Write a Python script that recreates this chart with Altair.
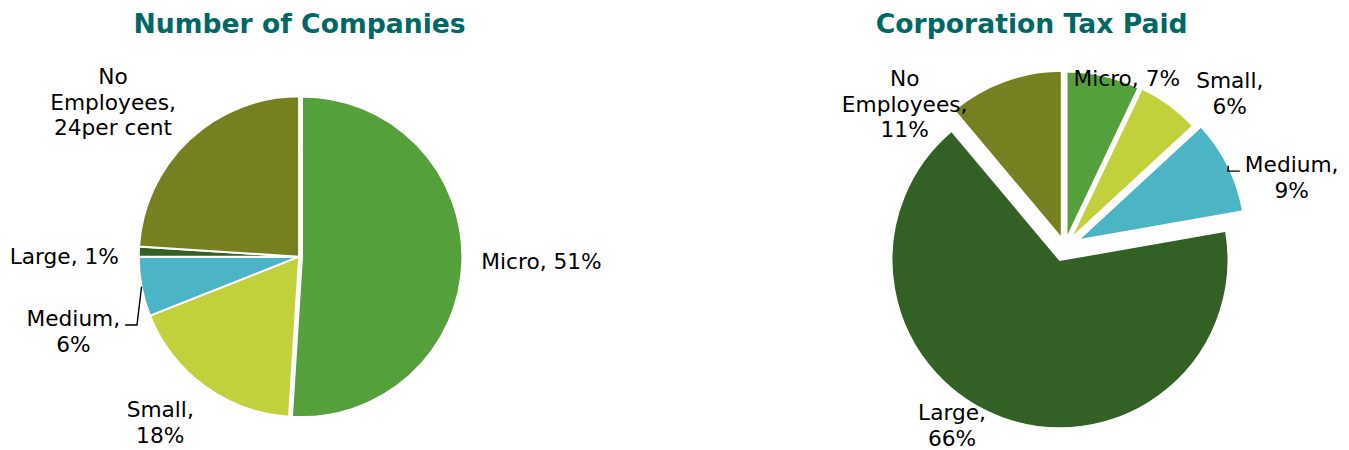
import math
import altair as alt
import pandas as pd

# ---------------- data ----------------
categories = ["Micro", "Small", "Medium", "Large", "No Employees"]
companies_pct = [51, 18, 6, 1, 24]
tax_pct = [7, 6, 9, 66, 11]
companies_labels = ["Micro, 51%", "Small,\n18%", "Medium,\n6%", "Large, 1%",
                    "No\nEmployees,\n24per cent"]
tax_labels = ["Micro, 7%", "Small,\n6%", "Medium,\n9%", "Large,\n66%",
              "No\nEmployees,\n11%"]
titles = ["Number of Companies", "Corporation Tax Paid"]

# ---------------- style / layout ----------------
COLORS = ["#54A03A", "#C1D03B", "#4BB5C5", "#336024", "#778021"]
TITLE_COLOR = "#006864"
FONT = "DejaVu Sans"
TITLE_SIZE = 27
LABEL_SIZE = 22
LINE_H = 26
GAP = 19                 # distance of label box from pie edge
PLOT_TOP = 47            # page y of the top of the plot areas
PLOT_H = 395
LABEL_TOP = 62           # page y band within which labels are kept
LABEL_BOTTOM = 452
SPACING = 129

GEO = {
    "left": dict(x0=8, width=584, cx=303, cy=256, r=162.5, stroke=2, title_dx=3.5),
    "right": dict(x0=721, width=620, cx=1061, cy=246, r=171, stroke=2.5, title_dx=-3.5),
}
EXPLODE = {
    "left": {"Micro": 3, "Small": 0, "Medium": 0, "Large": 0, "No Employees": 0},
    "right": {"Micro": 7, "Small": 8, "Medium": 14, "Large": 14, "No Employees": 8},
}
# manual label nudges (like hand-moved data labels)
NUDGE = {
    "left": {"Micro": (0, -1), "Small": (0, -1.6), "Medium": (-3, 27.6), "Large": (-1, 7),
             "No Employees": (-0.6, -1)},
    "right": {"Micro": (-16.4, 1), "Small": (15.8, 3), "Medium": (-0.3, 46.9),
              "Large": (-9.8, 2), "No Employees": (-30.8, 1)},
}
LEADERS = {"left": ["Medium"], "right": ["Medium"]}

CHAR_W = {" ": 0.318, ",": 0.318, "%": 0.950, "M": 0.863, "S": 0.635, "L": 0.557,
          "N": 0.748, "E": 0.632, "a": 0.613, "c": 0.550, "d": 0.635, "e": 0.615,
          "g": 0.635, "i": 0.278, "l": 0.278, "m": 0.974, "n": 0.634, "o": 0.612,
          "p": 0.635, "r": 0.411, "s": 0.521, "t": 0.392, "u": 0.634, "y": 0.592}


def text_width(s):
    return max(sum(CHAR_W.get(ch, 0.636) for ch in line) for line in s.split("\n")) * LABEL_SIZE


def layout_labels(values, labels, key):
    g = GEO[key]
    r = g["r"]
    top, bottom = LABEL_TOP - g["cy"], LABEL_BOTTOM - g["cy"]
    total = sum(values)
    cum = 0.0
    rows, leader_rows = [], []
    for i, (v, lab) in enumerate(zip(values, labels)):
        cat = categories[i]
        mid = 2 * math.pi * (cum + v / 2) / total
        cum += v
        ux, uy = math.sin(mid), -math.cos(mid)
        ex = EXPLODE[key][cat]
        R = ex + r + GAP
        w = text_width(lab)
        n = lab.count("\n") + 1
        h = n * LINE_H
        sx = max(-1.0, min(1.0, 3 * ux))
        sy = max(-1.0, min(1.0, 3 * uy))
        cx = R * ux + sx * w / 2
        cy = R * uy + sy * h / 2
        cy = max(top + h / 2, min(bottom - h / 2, cy))
        nx, ny = NUDGE[key].get(cat, (0, 0))
        cx += nx
        cy += ny
        # first text line sits at the anchor, so lift the block to centre it
        rows.append({"category": cat, "label": lab, "lx": cx,
                     "ly": cy - (n - 1) * LINE_H / 2})
        if cat in LEADERS[key]:
            side = 1 if ux > 0 else -1
            edge_x = cx - side * w / 2
            ly = cy - (n - 1) * LINE_H / 2 + 6
            pts = [((ex + r) * ux, (ex + r) * uy),
                   (edge_x - side * 17, ly),
                   (edge_x - side * 5, ly)]
            for j, (px, py) in enumerate(pts):
                leader_rows.append({"id": cat, "pt": j, "x": px, "y": py})
    return pd.DataFrame(rows), pd.DataFrame(leader_rows)


def build_panel(values, labels, title, key):
    g = GEO[key]
    xs = alt.Scale(domain=[g["x0"] - g["cx"], g["x0"] + g["width"] - g["cx"]],
                   nice=False, zero=False)
    ys = alt.Scale(domain=[PLOT_TOP - g["cy"], PLOT_TOP + PLOT_H - g["cy"]],
                   nice=False, zero=False, reverse=True)
    total = sum(values)
    slices = pd.DataFrame({
        "category": categories,
        "value": values,
        "order": list(range(len(values))),
        "ex": [EXPLODE[key][c] for c in categories],
    })
    arcs = (
        alt.Chart(slices)
        .transform_window(c1="sum(value)", sort=[alt.SortField("order", order="ascending")])
        .transform_calculate(c0="datum.c1 - datum.value")
        .transform_calculate(mid=f"PI * (datum.c0 + datum.c1) / {total}")
        .transform_calculate(dx="datum.ex * sin(datum.mid)")
        .transform_calculate(dy="-datum.ex * cos(datum.mid)")
        .mark_arc(radius=g["r"], stroke="white", strokeWidth=g["stroke"])
        .encode(
            x=alt.X("dx:Q", scale=xs, axis=None),
            y=alt.Y("dy:Q", scale=ys, axis=None),
            theta=alt.Theta("c0:Q", stack=None,
                            scale=alt.Scale(domain=[0, total], range=[0, 2 * math.pi])),
            theta2=alt.Theta2("c1:Q"),
            color=alt.Color("category:N", scale=alt.Scale(domain=categories, range=COLORS),
                            legend=None),
            order=alt.Order("order:Q"),
        )
    )
    lab_df, lead_df = layout_labels(values, labels, key)
    texts = (
        alt.Chart(lab_df)
        .mark_text(font=FONT, fontSize=LABEL_SIZE, lineHeight=LINE_H, lineBreak="\n",
                   align="center", baseline="middle", color="black")
        .encode(x=alt.X("lx:Q", scale=xs, axis=None),
                y=alt.Y("ly:Q", scale=ys, axis=None),
                text="label:N")
    )
    layers = [arcs, texts]
    if len(lead_df):
        leaders = (
            alt.Chart(lead_df)
            .mark_line(color="black", strokeWidth=1.4)
            .encode(x=alt.X("x:Q", scale=xs, axis=None),
                    y=alt.Y("y:Q", scale=ys, axis=None),
                    detail="id:N", order="pt:Q")
        )
        layers.append(leaders)
    return alt.layer(*layers).properties(
        width=g["width"], height=PLOT_H,
        title=alt.TitleParams(title, font=FONT, fontSize=TITLE_SIZE, fontWeight="bold",
                              color=TITLE_COLOR, anchor="middle", offset=12,
                              dx=g["title_dx"]),
    )


left = build_panel(companies_pct, companies_labels, titles[0], "left")
right = build_panel(tax_pct, tax_labels, titles[1], "right")

chart = (
    alt.hconcat(left, right, spacing=SPACING)
    .properties(padding=0)
    .configure_view(strokeWidth=0)
)

chart.save("out.html", embed_options={"renderer": "svg", "actions": False})
